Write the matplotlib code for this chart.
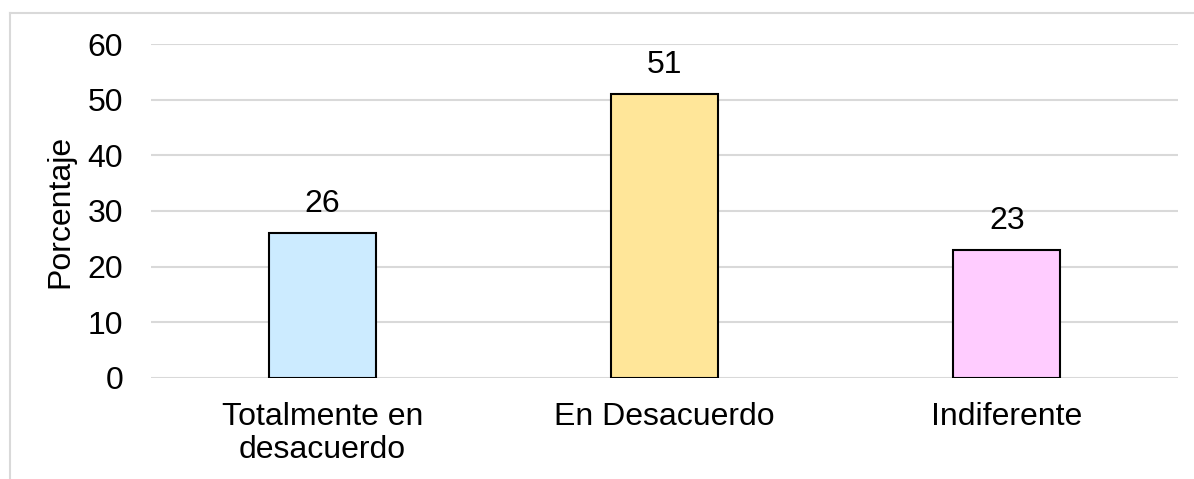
import matplotlib

matplotlib.use("Agg")
import matplotlib.pyplot as plt
from matplotlib.lines import Line2D

categories = ["Totalmente en\ndesacuerdo", "En Desacuerdo", "Indiferente"]
values = [26, 51, 23]
colors = ["#CCEBFF", "#FFE699", "#FFCCFF"]
yticks = [0, 10, 20, 30, 40, 50, 60]

plt.rcParams["font.family"] = ["Liberation Sans", "DejaVu Sans"]
plt.rcParams["font.size"] = 23

fig = plt.figure(figsize=(11.94, 4.79), dpi=100)
ax = fig.add_axes([0.1265, 0.2109, 0.8601, 0.6972])

x = range(len(categories))
bars = ax.bar(x, values, width=0.313, color=colors, edgecolor="black", linewidth=1.5, zorder=3)
for b, v in zip(bars, values):
    ax.annotate(str(v), (b.get_x() + b.get_width() / 2, v), xytext=(0, 10),
                textcoords="offset points", ha="center", va="bottom")

ax.set_xlim(-0.5, 2.5)
ax.set_ylim(0, 60)
ax.set_yticks(yticks)
ax.set_xticks(list(x))
ax.set_xticklabels(categories, linespacing=1.15)
ax.tick_params(axis="y", length=0, pad=20)
ax.tick_params(axis="x", length=0, pad=17)
ax.yaxis.grid(True, color="#d9d9d9", linewidth=1.5, zorder=0)
ax.set_axisbelow(True)
for s in ax.spines.values():
    s.set_visible(False)
ax.set_ylabel("Porcentaje")
ax.yaxis.set_label_coords(-0.074, 0.5)

# chart frame
x0 = 10 / 1194
y0 = 1 - 13 / 479
fig.add_artist(Line2D([x0, x0], [0, y0], color="#d9d9d9", lw=1.5))
fig.add_artist(Line2D([x0, 1], [y0, y0], color="#d9d9d9", lw=1.5))

fig.savefig("out.png", dpi=100)
